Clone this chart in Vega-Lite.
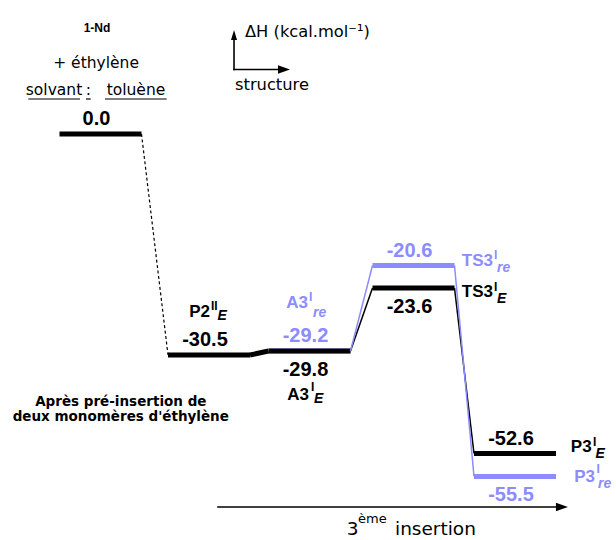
{
  "$schema": "https://vega.github.io/schema/vega-lite/v6.json",
  "width": 616,
  "height": 540,
  "autosize": "none",
  "padding": 0,
  "background": "white",
  "config": {
    "view": {"stroke": null},
    "font": "DejaVu Sans",
    "locale": {"number": {"decimal": ".", "thousands": ",", "grouping": [3], "currency": ["", ""], "minus": "-"}}
  },
  "datasets": {
    "levels": [
      {"id": "R", "series": "E", "step": 0, "dH": 0.0},
      {"id": "P2_E", "series": "E", "step": 1, "dH": -30.5},
      {"id": "A3_E", "series": "E", "step": 2, "dH": -29.8},
      {"id": "TS3_E", "series": "E", "step": 3, "dH": -23.6},
      {"id": "P3_E", "series": "E", "step": 4, "dH": -52.6},
      {"id": "A3_re", "series": "re", "step": 2, "dH": -29.2},
      {"id": "TS3_re", "series": "re", "step": 3, "dH": -20.6},
      {"id": "P3_re", "series": "re", "step": 4, "dH": -55.5}
    ],
    "names": [
      {"role": "name", "series": "E", "text": "P2", "step": 1.01, "dH": -26.18},
      {"role": "sup", "series": "E", "text": "II", "step": 1.02, "dH": -25.56},
      {"role": "sub", "series": "E", "text": "E", "step": 1.085, "dH": -26.44},
      {"role": "name", "series": "re", "text": "A3", "step": 1.985, "dH": -25.38},
      {"role": "sup", "series": "re", "text": "I", "step": 1.995, "dH": -24.76},
      {"role": "sub", "series": "re", "text": "re", "step": 2.034, "dH": -26.18},
      {"role": "name", "series": "E", "text": "A3", "step": 1.995, "dH": -40.6},
      {"role": "sup", "series": "E", "text": "I", "step": 2.0144, "dH": -38.58},
      {"role": "sub", "series": "E", "text": "E", "step": 2.043, "dH": -41.27},
      {"role": "name", "series": "re", "text": "TS3", "step": 3.783, "dH": -20.667},
      {"role": "sup", "series": "re", "text": "I", "step": 3.793, "dH": -19.58},
      {"role": "sub", "series": "re", "text": "re", "step": 3.823, "dH": -21.43},
      {"role": "name", "series": "E", "text": "TS3", "step": 3.783, "dH": -24.37},
      {"role": "sup", "series": "E", "text": "I", "step": 3.793, "dH": -23.87},
      {"role": "sub", "series": "E", "text": "E", "step": 3.823, "dH": -24.91},
      {"role": "name", "series": "E", "text": "P3", "step": 4.759, "dH": -52.196},
      {"role": "sup", "series": "E", "text": "I", "step": 4.772, "dH": -50.917},
      {"role": "sub", "series": "E", "text": "E", "step": 4.797, "dH": -53.17},
      {"role": "name", "series": "re", "text": "P3", "step": 4.792, "dH": -56.15},
      {"role": "sup", "series": "re", "text": "I", "step": 4.807, "dH": -55.06},
      {"role": "sub", "series": "re", "text": "re", "step": 4.822, "dH": -56.94}
    ],
    "notes": [
      {"role": "compound", "text": "1-Nd", "step": -0.032, "dH": 15.69},
      {"role": "note", "text": "+ éthylène", "step": -0.041, "dH": 10.15},
      {"role": "note", "text": "solvant", "step": -0.4286, "dH": 6.0},
      {"role": "note", "text": ":", "step": -0.1124, "dH": 6.0},
      {"role": "note", "text": "toluène", "step": 0.327, "dH": 6.0},
      {"role": "legend", "text": "ΔH (kcal.mol⁻¹)", "step": 1.358, "dH": 14.97},
      {"role": "legend", "text": "structure", "step": 1.259, "dH": 6.77},
      {"role": "caption", "text": "Après pré-insertion de", "step": 0.187, "dH": -41.94},
      {"role": "caption", "text": "deux monomères d'éthylène", "step": 0.187, "dH": -45.31},
      {"role": "axis", "text": "3", "step": 2.358, "dH": -62.81},
      {"role": "axissup", "text": "ème", "step": 2.466, "dH": -61.35},
      {"role": "axis", "text": "insertion", "step": 2.822, "dH": -62.81}
    ],
    "lines": [
      {"kind": "arrow", "step": 1.249, "dH": 9.923, "step2": 1.249, "dH2": 14.46},
      {"kind": "arrow", "step": 1.249, "dH": 9.923, "step2": 1.687, "dH2": 9.923},
      {"kind": "arrow", "step": 1.0896, "dH": -59.31, "step2": 4.406, "dH2": -59.31},
      {"kind": "underline", "step": -0.6654, "dH": 5.385, "step2": -0.1889, "dH2": 5.385},
      {"kind": "underline", "step": -0.1336, "dH": 5.385, "step2": -0.0903, "dH2": 5.385},
      {"kind": "underline", "step": 0.0415, "dH": 5.385, "step2": 0.61, "dH2": 5.385}
    ],
    "heads": [
      {"dir": "up", "step": 1.249, "dH": 15.23},
      {"dir": "right", "step": 1.746, "dH": 9.923},
      {"dir": "right", "step": 4.465, "dH": -59.31}
    ]
  },
  "encoding": {
    "x": {"field": "step", "type": "quantitative", "axis": null,
          "scale": {"domain": [-1, 0, 1, 2, 3, 4, 5], "range": [-8, 100.5, 209, 309.5, 413.5, 515, 616], "zero": false, "nice": false}},
    "y": {"field": "dH", "type": "quantitative", "axis": null,
          "scale": {"domain": [-65, -55.5, -52.6, -30.5, -29.8, -29.2, -23.6, -20.6, 0, 20], "range": [552.5, 476.5, 453.5, 355, 351, 351, 288, 265.5, 134, 4], "zero": false, "nice": false}}
  },
  "layer": [
    {
      "data": {"name": "levels"},
      "transform": [{"filter": "datum.series == 're'"}],
      "mark": {"type": "rule", "strokeWidth": 5, "xOffset": -41, "x2Offset": 41, "color": "#8c8cff"},
      "encoding": {"x2": {"field": "step"}}
    },
    {
      "data": {"name": "levels"},
      "transform": [{"filter": "datum.series == 'E'"}],
      "mark": {"type": "rule", "strokeWidth": 5, "xOffset": -41, "x2Offset": 41, "color": "#000000"},
      "encoding": {"x2": {"field": "step"}}
    },
    {
      "data": {"name": "levels"},
      "transform": [
        {"window": [{"op": "lead", "field": "step", "as": "step2"}, {"op": "lead", "field": "dH", "as": "dH2"}], "groupby": ["series"], "sort": [{"field": "step", "order": "ascending"}]},
        {"filter": "datum.step2 != null && datum.series == 'E' && datum.step == 0"}
      ],
      "mark": {"type": "rule", "strokeWidth": 1.2, "strokeDash": [3, 2.5], "xOffset": 41, "x2Offset": -41, "color": "#000000"},
      "encoding": {"x2": {"field": "step2"}, "y2": {"field": "dH2"}}
    },
    {
      "data": {"name": "levels"},
      "transform": [
        {"window": [{"op": "lead", "field": "step", "as": "step2"}, {"op": "lead", "field": "dH", "as": "dH2"}], "groupby": ["series"], "sort": [{"field": "step", "order": "ascending"}]},
        {"filter": "datum.step2 != null && datum.series == 'E' && datum.step == 1"}
      ],
      "mark": {"type": "rule", "strokeWidth": 5, "xOffset": 41, "x2Offset": -41, "color": "#000000"},
      "encoding": {"x2": {"field": "step2"}, "y2": {"field": "dH2"}}
    },
    {
      "data": {"name": "levels"},
      "transform": [
        {"window": [{"op": "lead", "field": "step", "as": "step2"}, {"op": "lead", "field": "dH", "as": "dH2"}], "groupby": ["series"], "sort": [{"field": "step", "order": "ascending"}]},
        {"filter": "datum.step2 != null && datum.series == 'E' && datum.step >= 2"}
      ],
      "mark": {"type": "rule", "strokeWidth": 1.5, "xOffset": 41, "x2Offset": -41, "color": "#000000"},
      "encoding": {"x2": {"field": "step2"}, "y2": {"field": "dH2"}}
    },
    {
      "data": {"name": "levels"},
      "transform": [
        {"window": [{"op": "lead", "field": "step", "as": "step2"}, {"op": "lead", "field": "dH", "as": "dH2"}], "groupby": ["series"], "sort": [{"field": "step", "order": "ascending"}]},
        {"filter": "datum.step2 != null && datum.series == 're'"}
      ],
      "mark": {"type": "rule", "strokeWidth": 1.5, "xOffset": 41, "x2Offset": -41, "color": "#8c8cff"},
      "encoding": {"x2": {"field": "step2"}, "y2": {"field": "dH2"}}
    },
    {
      "data": {"name": "levels"},
      "transform": [{"filter": {"field": "id", "oneOf": ["R", "P2_E", "A3_re", "TS3_re", "P3_E"]}}],
      "mark": {"type": "text", "font": "Liberation Sans", "fontSize": 20, "fontWeight": "bold", "align": "center", "baseline": "alphabetic", "dx": -4, "dy": -9},
      "encoding": {
        "text": {"field": "dH", "type": "quantitative", "format": ".1f"},
        "color": {"field": "series", "type": "nominal", "scale": {"domain": ["E", "re"], "range": ["#000000", "#8c8cff"]}, "legend": null}
      }
    },
    {
      "data": {"name": "levels"},
      "transform": [{"filter": {"field": "id", "oneOf": ["A3_E", "TS3_E", "P3_re"]}}],
      "mark": {"type": "text", "font": "Liberation Sans", "fontSize": 20, "fontWeight": "bold", "align": "center", "baseline": "alphabetic", "dx": -4, "dy": 24.5},
      "encoding": {
        "text": {"field": "dH", "type": "quantitative", "format": ".1f"},
        "color": {"field": "series", "type": "nominal", "scale": {"domain": ["E", "re"], "range": ["#000000", "#8c8cff"]}, "legend": null}
      }
    },
    {
      "data": {"name": "names"},
      "transform": [{"filter": "datum.role == 'name'"}],
      "mark": {"type": "text", "font": "Liberation Sans", "fontSize": 17, "fontWeight": "bold", "align": "right", "baseline": "alphabetic"},
      "encoding": {
        "text": {"field": "text"},
        "color": {"field": "series", "type": "nominal", "scale": {"domain": ["E", "re"], "range": ["#000000", "#8c8cff"]}, "legend": null}
      }
    },
    {
      "data": {"name": "names"},
      "transform": [{"filter": "datum.role == 'sup'"}],
      "mark": {"type": "text", "font": "Liberation Sans", "fontSize": 12, "fontWeight": "bold", "align": "left", "baseline": "alphabetic"},
      "encoding": {
        "text": {"field": "text"},
        "color": {"field": "series", "type": "nominal", "scale": {"domain": ["E", "re"], "range": ["#000000", "#8c8cff"]}, "legend": null}
      }
    },
    {
      "data": {"name": "names"},
      "transform": [{"filter": "datum.role == 'sub'"}],
      "mark": {"type": "text", "font": "Liberation Sans", "fontSize": 14, "fontWeight": "bold", "fontStyle": "italic", "align": "left", "baseline": "alphabetic"},
      "encoding": {
        "text": {"field": "text"},
        "color": {"field": "series", "type": "nominal", "scale": {"domain": ["E", "re"], "range": ["#000000", "#8c8cff"]}, "legend": null}
      }
    },
    {
      "data": {"name": "notes"},
      "transform": [{"filter": "datum.role == 'compound'"}],
      "mark": {"type": "text", "font": "Liberation Sans", "fontSize": 12, "fontWeight": "bold", "align": "center", "baseline": "alphabetic", "color": "#000000"},
      "encoding": {"text": {"field": "text"}}
    },
    {
      "data": {"name": "notes"},
      "transform": [{"filter": "datum.role == 'note'"}],
      "mark": {"type": "text", "fontSize": 15.5, "align": "center", "baseline": "alphabetic", "color": "#000000"},
      "encoding": {"text": {"field": "text"}}
    },
    {
      "data": {"name": "notes"},
      "transform": [{"filter": "datum.role == 'legend'"}],
      "mark": {"type": "text", "fontSize": 16.3, "align": "left", "baseline": "alphabetic", "color": "#000000"},
      "encoding": {"text": {"field": "text"}}
    },
    {
      "data": {"name": "notes"},
      "transform": [{"filter": "datum.role == 'caption'"}],
      "mark": {"type": "text", "fontSize": 13.5, "fontWeight": "bold", "align": "center", "baseline": "alphabetic", "color": "#000000"},
      "encoding": {"text": {"field": "text"}}
    },
    {
      "data": {"name": "notes"},
      "transform": [{"filter": "datum.role == 'axis'"}],
      "mark": {"type": "text", "fontSize": 18.5, "align": "left", "baseline": "alphabetic", "color": "#000000"},
      "encoding": {"text": {"field": "text"}}
    },
    {
      "data": {"name": "notes"},
      "transform": [{"filter": "datum.role == 'axissup'"}],
      "mark": {"type": "text", "fontSize": 13, "align": "left", "baseline": "alphabetic", "color": "#000000"},
      "encoding": {"text": {"field": "text"}}
    },
    {
      "data": {"name": "lines"},
      "transform": [{"filter": "datum.kind == 'arrow'"}],
      "mark": {"type": "rule", "strokeWidth": 1.6, "strokeCap": "square", "color": "#000000"},
      "encoding": {"x2": {"field": "step2"}, "y2": {"field": "dH2"}}
    },
    {
      "data": {"name": "lines"},
      "transform": [{"filter": "datum.kind == 'underline'"}],
      "mark": {"type": "rule", "strokeWidth": 1.2, "color": "#000000"},
      "encoding": {"x2": {"field": "step2"}, "y2": {"field": "dH2"}}
    },
    {
      "data": {"name": "heads"},
      "mark": {"type": "point", "filled": true, "opacity": 1, "size": 144, "color": "#000000", "strokeWidth": 0},
      "encoding": {
        "shape": {"field": "dir", "type": "nominal", "scale": {"domain": ["up", "right"], "range": ["M0,-0.83L-0.5,0.83L0.5,0.83Z", "M1,0L-1,-0.7L-1,0.7Z"]}, "legend": null}
      }
    }
  ]
}
